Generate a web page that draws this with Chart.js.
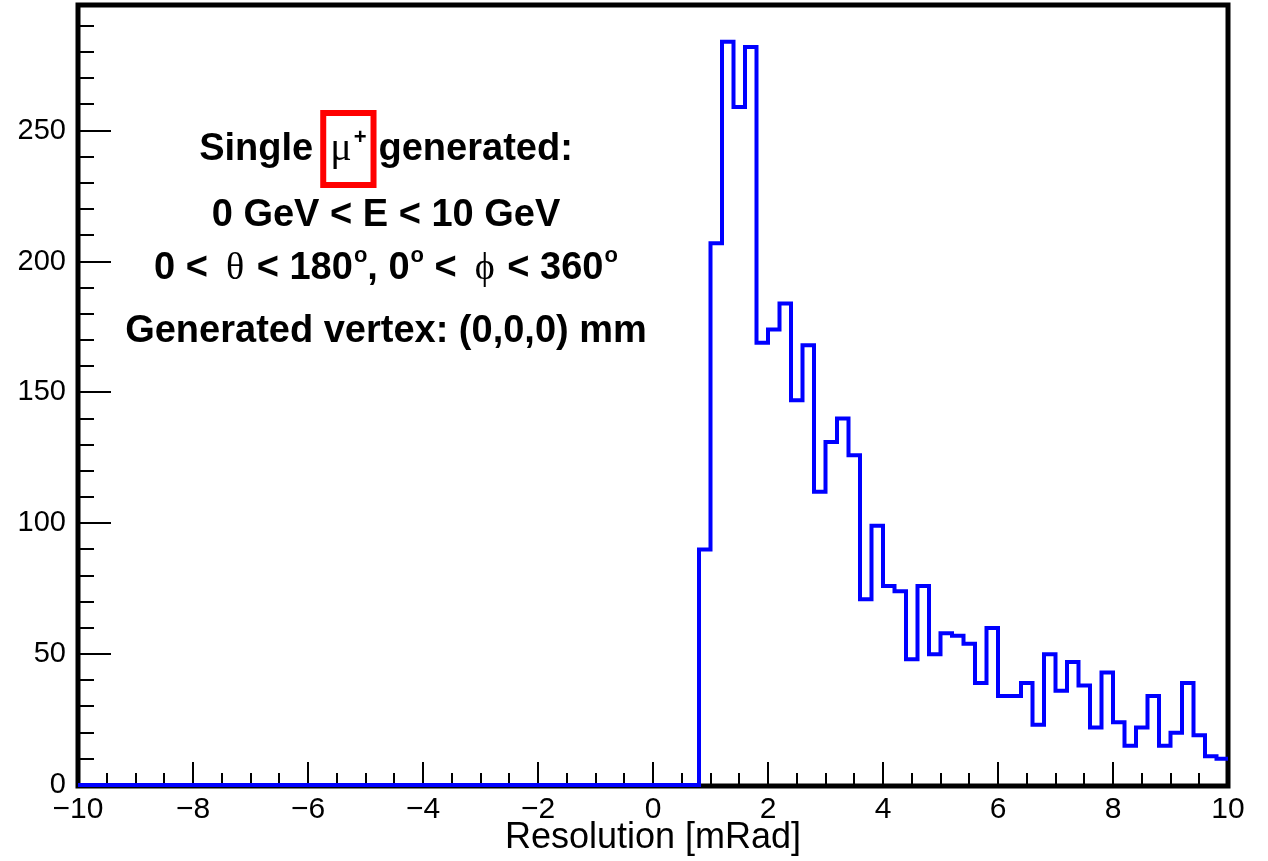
<!DOCTYPE html>
<html>
<head>
<meta charset="utf-8">
<script src="https://cdn.jsdelivr.net/npm/chart.js@4/dist/chart.umd.min.js"></script>
<style>
  html, body { margin: 0; padding: 0; background: #ffffff; }
  #wrap { width: 1268px; height: 861px; }
</style>
</head>
<body>
<div id="wrap"><canvas id="c" width="1268" height="861"></canvas></div>
<script>
// ---------------- data ----------------
const binLow = -10;
const binHigh = 10;
const binWidth = 0.2;

// counts per 0.2 mRad bin, from -10 to +10 (100 bins)
const counts = [
  0, 0, 0, 0, 0, 0, 0, 0, 0, 0,          // -10 .. -8
  0, 0, 0, 0, 0, 0, 0, 0, 0, 0,          //  -8 .. -6
  0, 0, 0, 0, 0, 0, 0, 0, 0, 0,          //  -6 .. -4
  0, 0, 0, 0, 0, 0, 0, 0, 0, 0,          //  -4 .. -2
  0, 0, 0, 0, 0, 0, 0, 0, 0, 0,          //  -2 ..  0
  0, 0, 0, 0, 90, 207, 284, 259, 282, 169,   // 0 .. 2
  174, 184, 147, 168, 112, 131, 140, 126, 71, 99, // 2 .. 4
  76, 74, 48, 76, 50, 58, 57, 54, 39, 60,    // 4 .. 6
  34, 34, 39, 23, 50, 36, 47, 38, 22, 43,    // 6 .. 8
  24, 15, 22, 34, 15, 20, 39, 19, 11, 10     // 8 .. 10
];

const yMax = 298;
const yTicks = [0, 50, 100, 150, 200, 250];
const yTickLabels = ['0', '50', '100', '150', '200', '250'];
const xTicks = [-10, -8, -6, -4, -2, 0, 2, 4, 6, 8, 10];
const xTickLabels = ['\u221210', '\u22128', '\u22126', '\u22124', '\u22122', '0', '2', '4', '6', '8', '10'];
const xTitle = 'Resolution [mRad]';

// ---------------- build step outline points ----------------
const points = counts.map((c, i) => ({ x: binLow + i * binWidth, y: c }));
points.push({ x: binHigh, y: counts[counts.length - 1] });

// ---------------- fonts ----------------
const SANS = '"Liberation Sans", Arial, Helvetica, sans-serif';
const F_B = 'bold 38px ' + SANS;
const F_SERIF = '38px "Liberation Serif", "Times New Roman", serif';
const F_MU = '40px "Liberation Serif", "Times New Roman", serif';
const F_SUP = 'bold 22px ' + SANS;

// ---------------- plugins ----------------
const frameTicks = {
  id: 'frameTicks',
  beforeDatasetsDraw(chart) {
    const { ctx, chartArea: a, scales: { x, y } } = chart;
    ctx.save();
    ctx.strokeStyle = '#000';
    ctx.lineWidth = 2;
    ctx.beginPath();
    for (let v = 0; v <= yMax; v += 10) {
      const py = Math.round(y.getPixelForValue(v));
      const len = (v % 50 === 0) ? 33 : 16;
      ctx.moveTo(a.left, py);
      ctx.lineTo(a.left + len, py);
    }
    for (let i = 0; i <= 40; i++) {
      const v = binLow + i * 0.5;
      const px = Math.round(x.getPixelForValue(v));
      const len = (i % 4 === 0) ? 23 : 12;
      ctx.moveTo(px, a.bottom);
      ctx.lineTo(px, a.bottom - len);
    }
    ctx.stroke();
    ctx.lineWidth = 5;
    ctx.strokeRect(a.left, a.top, a.right - a.left, a.bottom - a.top + 1);
    ctx.restore();
  }
};

function drawRich(ctx, segs, cx, baseline) {
  let total = 0;
  for (const s of segs) {
    ctx.font = s.font;
    s.w = ctx.measureText(s.text).width;
    total += (s.pad || 0) + s.w;
  }
  let x = cx - total / 2;
  for (const s of segs) {
    x += s.pad || 0;
    ctx.font = s.font;
    s.x = x;
    ctx.fillText(s.text, x, baseline + (s.dy || 0));
    x += s.w;
    s.xe = x;
  }
  return segs;
}

const annotation = {
  id: 'annotation',
  afterDraw(chart) {
    const ctx = chart.ctx;
    ctx.save();
    ctx.fillStyle = '#000';
    ctx.textBaseline = 'alphabetic';
    ctx.textAlign = 'left';
    const cx = 386;

    // line 1
    const b1 = 160;
    const l1 = drawRich(ctx, [
      { text: 'Single', font: F_B },
      { text: '\u03BC', font: F_MU, pad: 17 },
      { text: '+', font: F_SUP, dy: -16, pad: 2 },
      { text: 'generated:', font: F_B, pad: 12 }
    ], cx, b1);
    ctx.strokeStyle = '#ff0000';
    ctx.lineWidth = 6;
    const bl = l1[1].x - 7, br = l1[2].xe + 7;
    ctx.strokeRect(bl, b1 - 47, br - bl, 72);

    // line 2
    ctx.fillStyle = '#000';
    drawRich(ctx, [{ text: '0 GeV < E < 10 GeV', font: F_B }], cx, 226);

    // line 3
    drawRich(ctx, [
      { text: '0 <', font: F_B },
      { text: '\u03B8', font: F_SERIF, pad: 18 },
      { text: ' < 180', font: F_B, pad: 2 },
      { text: 'o', font: F_SUP, dy: -17, pad: 1 },
      { text: ', 0', font: F_B },
      { text: 'o', font: F_SUP, dy: -17, pad: 1 },
      { text: ' <', font: F_B },
      { text: '\u03D5', font: F_SERIF, pad: 18 },
      { text: ' < 360', font: F_B, pad: 2 },
      { text: 'o', font: F_SUP, dy: -17, pad: 1 }
    ], cx, 279);

    // line 4
    drawRich(ctx, [{ text: 'Generated vertex: (0,0,0) mm', font: F_B }], cx, 342);
    ctx.restore();
  }
};

// ---------------- chart ----------------
new Chart(document.getElementById('c').getContext('2d'), {
  type: 'line',
  data: {
    datasets: [{
      data: points,
      borderColor: '#0000ff',
      borderWidth: 4,
      pointRadius: 0,
      pointHoverRadius: 0,
      stepped: true,
      fill: false,
      tension: 0,
      borderJoinStyle: 'miter',
      borderCapStyle: 'butt',
      clip: 4
    }]
  },
  options: {
    responsive: false,
    animation: false,
    devicePixelRatio: 1,
    events: [],
    layout: { padding: { left: 0, right: 40, top: 5, bottom: 0 } },
    plugins: { legend: { display: false }, tooltip: { enabled: false }, title: { display: false } },
    scales: {
      x: {
        type: 'linear',
        min: binLow,
        max: binHigh,
        afterFit(s) { s.height = 76; s.paddingLeft = 0; s.paddingRight = 0; },
        afterBuildTicks(s) { s.ticks = xTicks.map(v => ({ value: v })); },
        ticks: {
          callback: (v, i) => xTickLabels[i],
          font: { size: 30, family: SANS },
          color: '#000',
          padding: 7,
          maxRotation: 0,
          autoSkip: false
        },
        grid: { display: false, drawTicks: false },
        border: { display: false },
        title: {
          display: true,
          text: xTitle,
          font: { size: 36, family: SANS },
          color: '#000',
          padding: { top: 0, bottom: 1 }
        }
      },
      y: {
        type: 'linear',
        min: 0,
        max: yMax,
        afterFit(s) { s.width = 78; s.paddingTop = 0; s.paddingBottom = 0; },
        afterBuildTicks(s) { s.ticks = yTicks.map(v => ({ value: v })); },
        ticks: {
          callback: (v, i) => yTickLabels[i],
          font: { size: 29, family: SANS },
          color: '#000',
          padding: 12,
          autoSkip: false
        },
        grid: { display: false, drawTicks: false },
        border: { display: false }
      }
    }
  },
  plugins: [frameTicks, annotation]
});
</script>
</body>
</html>
